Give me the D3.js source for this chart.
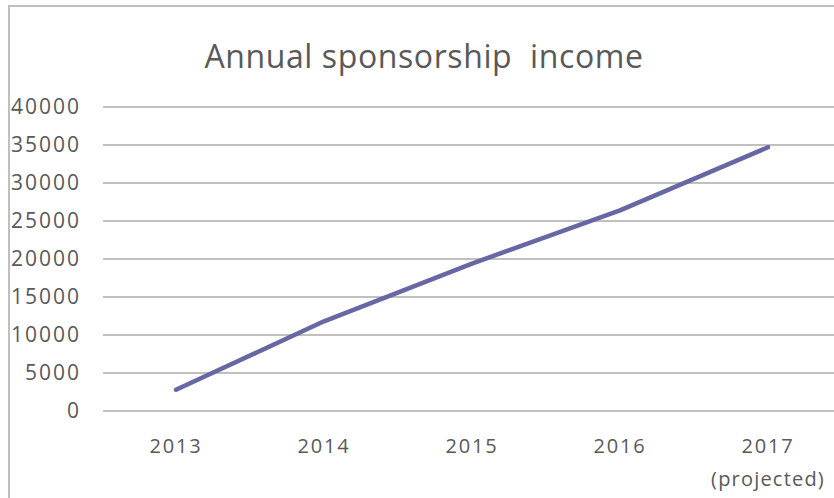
<!DOCTYPE html>
<html>
<head>
<meta charset="utf-8">
<script src="https://cdn.jsdelivr.net/npm/d3@7"></script>
<style>
  body { margin: 0; background: #fff; }
  text { font-family: "Open Sans", "Noto Sans", sans-serif; fill: #595959; }
</style>
</head>
<body>
<svg width="834" height="498"></svg>
<script>
// データ
const years = ["2013", "2014", "2015", "2016", "2017"];
const yearNotes = ["", "", "", "", "(projected)"];
const income = [2800, 11800, 19400, 26400, 34700];
const yTicks = [0, 5000, 10000, 15000, 20000, 25000, 30000, 35000, 40000];

const svg = d3.select("svg");

// 外枠
svg.append("path")
    .attr("d", "M9,498 V6 H834")
    .attr("fill", "none")
    .attr("stroke", "#bfbfbf")
    .attr("stroke-width", 2);

// タイトル
svg.append("text")
    .attr("x", 424)
    .attr("y", 68)
    .attr("text-anchor", "middle")
    .style("font-size", "32px")
    .style("letter-spacing", "0.6px")
    .style("white-space", "pre")
    .text("Annual sponsorship  income");

const x = d3.scaleBand()
    .domain(years)
    .range([102, 842]);

const y = d3.scaleLinear()
    .domain([0, 40000])
    .range([411, 107]);

// y軸
const yAxis = svg.append("g")
    .attr("transform", "translate(103,0)")
    .call(d3.axisLeft(y).tickValues(yTicks).tickSize(0).tickPadding(22).tickFormat(d3.format("d")));
yAxis.select(".domain").remove();
yAxis.selectAll("text")
    .style("font-size", "21px")
    .style("letter-spacing", "2px");

// グリッド線
svg.append("g")
    .selectAll("line")
    .data(yTicks)
    .enter().append("line")
    .attr("x1", 103)
    .attr("x2", 834)
    .attr("y1", d => y(d))
    .attr("y2", d => y(d))
    .attr("stroke", "#c0c0c0")
    .attr("stroke-width", 2);

// x軸
const xAxis = svg.append("g")
    .attr("transform", "translate(0,411)")
    .call(d3.axisBottom(x).tickSize(0).tickPadding(28));
xAxis.select(".domain").remove();
xAxis.selectAll("text")
    .style("font-size", "20px")
    .style("letter-spacing", "1.8px");

svg.append("g")
    .selectAll("text")
    .data(years)
    .enter().append("text")
    .attr("x", d => x(d) + x.bandwidth() / 2)
    .attr("y", 486)
    .attr("text-anchor", "middle")
    .style("font-size", "20px")
    .style("letter-spacing", "1.2px")
    .text((d, i) => yearNotes[i]);

// 折れ線
const line = d3.line()
    .x((d, i) => x(years[i]) + x.bandwidth() / 2)
    .y(d => y(d));

svg.append("path")
    .datum(income)
    .attr("d", line)
    .attr("fill", "none")
    .attr("stroke", "#6667a3")
    .attr("stroke-width", 4.5)
    .attr("stroke-linecap", "round")
    .attr("stroke-linejoin", "round");
</script>
</body>
</html>
